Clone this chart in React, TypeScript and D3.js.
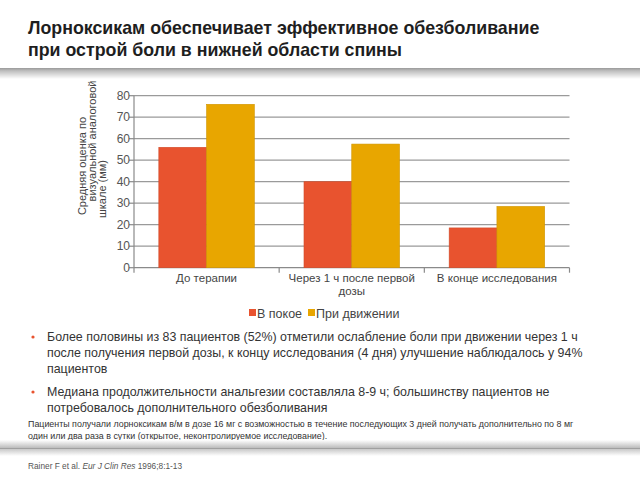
import React from 'react';
import * as d3 from 'd3';

const categories = [["До терапии"], ["Через 1 ч после первой", "дозы"], ["В конце исследования"]];
const seriesNames = ["В покое", "При движении"];
const restValues = [56, 40, 18.5];
const movementValues = [76, 57.5, 28.5];
const yTicks = [0, 10, 20, 30, 40, 50, 60, 70, 80];
const yTitleLines = ["Средняя оценка по", "визуальной аналоговой", "шкале (мм)"];
const titleLines = ["Лорноксикам обеспечивает эффективное обезболивание", "при острой боли в нижней области спины"];
const bullets = [
  ["Более половины из 83 пациентов (52%) отметили ослабление боли при движении через 1 ч", "после получения первой дозы, к концу исследования (4 дня) улучшение наблюдалось у 94%", "пациентов"],
  ["Медиана продолжительности анальгезии составляла 8-9 ч; большинству пациентов не", "потребовалось дополнительного обезболивания"],
];
const footnote = [
  "Пациенты получали лорноксикам в/м в дозе 16 мг с возможностью в течение последующих 3 дней получать дополнительно по 8 мг",
  "один или два раза в сутки (открытое, неконтролируемое исследование).",
];

const colors = ["#e8532f", "#e8a600"];
const font = "'Liberation Sans', Arial, sans-serif";

export default function App() {
  const idx = categories.map((_, i) => String(i));
  const x0 = d3.scaleBand().domain(idx).range([134, 569.5]).padding(0);
  const x1 = d3.scaleBand().domain(seriesNames).range([0, x0.bandwidth()]).paddingOuter(0.52).paddingInner(0);
  const y = d3.scaleLinear().domain([0, 80]).range([267.7, 95.7]);
  const series = [restValues, movementValues];
  const [x0min, x0max] = x0.range();

  return (
    <svg width={640} height={480} style={{ position: 'absolute', left: 0, top: 0, fontFamily: font }}>
      <defs>
        <linearGradient id="topSep" x1="0" y1="0" x2="0" y2="1">
          <stop offset="0" stopColor="#9a9a9a" />
          <stop offset="0.25" stopColor="#bdbdbd" />
          <stop offset="1" stopColor="#ffffff" />
        </linearGradient>
        <linearGradient id="botSepA" x1="0" y1="0" x2="0" y2="1">
          <stop offset="0" stopColor="#ffffff" />
          <stop offset="1" stopColor="#bcbcbc" />
        </linearGradient>
        <linearGradient id="botSepB" x1="0" y1="0" x2="0" y2="1">
          <stop offset="0" stopColor="#c8c8c8" />
          <stop offset="1" stopColor="#ffffff" />
        </linearGradient>
      </defs>
      <rect width={640} height={480} fill="#ffffff" />

      {/* Title */}
      {titleLines.map((t, i) => (
        <text key={i} x={28} y={34 + i * 22} fontSize={17.8} fontWeight="bold" fill="#1e1e1e">{t}</text>
      ))}
      <rect x={0} y={68} width={640} height={11} fill="url(#topSep)" />

      {/* Gridlines */}
      {yTicks.map(t => (
        <line key={t} x1={x0min} x2={x0max} y1={y(t)} y2={y(t)} stroke={t === 0 ? '#8a8a8a' : '#9a9a9a'} strokeWidth={1.2} />
      ))}
      {/* Y axis */}
      <line x1={x0min} x2={x0min} y1={y(80)} y2={y(0)} stroke="#8a8a8a" strokeWidth={1.2} />
      {yTicks.map(t => (
        <g key={'yt' + t}>
          <line x1={x0min - 5} x2={x0min} y1={y(t)} y2={y(t)} stroke="#8a8a8a" strokeWidth={1.2} />
          <text x={x0min - 4} y={y(t)} dy="0.35em" textAnchor="end" fontSize={12} fill="#555">{t}</text>
        </g>
      ))}
      {/* X ticks */}
      {idx.concat(['end']).map((k, i) => {
        const xx = k === 'end' ? x0max : (x0(k) as number);
        return <line key={'xt' + i} x1={xx} x2={xx} y1={y(0)} y2={y(0) + 5} stroke="#8a8a8a" strokeWidth={1.2} />;
      })}

      {/* Bars */}
      {idx.map((k, i) => (
        <g key={'g' + k} transform={`translate(${x0(k)},0)`}>
          {seriesNames.map((s, j) => (
            <rect key={s} x={x1(s)} y={y(series[j][i])} width={x1.bandwidth()} height={y(0) - y(series[j][i])}
              fill={colors[j]} stroke={d3.color(colors[j])!.darker(0.3).toString()} strokeWidth={0.6} />
          ))}
        </g>
      ))}

      {/* Category labels */}
      {categories.map((lines, i) => (
        <text key={'c' + i} x={(x0(String(i)) as number) + x0.bandwidth() / 2} y={282} textAnchor="middle" fontSize={11.5} fill="#444">
          {lines.map((l, j) => <tspan key={j} x={(x0(String(i)) as number) + x0.bandwidth() / 2} dy={j === 0 ? 0 : 13}>{l}</tspan>)}
        </text>
      ))}

      {/* Y title */}
      {yTitleLines.map((l, i) => {
        const cx = [82, 92, 102][i];
        const cy = [166, 141, 189][i];
        return (
          <text key={'yl' + i} transform={`translate(${cx + 4},${cy}) rotate(-90)`} textAnchor="middle" fontSize={11} fill="#444">{l}</text>
        );
      })}

      {/* Legend */}
      <rect x={249} y={309} width={7} height={7} fill={colors[0]} />
      <text x={257} y={317.5} fontSize={12.5} fill="#444">{seriesNames[0]}</text>
      <rect x={308} y={309} width={7} height={7} fill={colors[1]} />
      <text x={316} y={317.5} fontSize={12.5} fill="#444">{seriesNames[1]}</text>

      {/* Bullets */}
      {bullets.map((b, i) => {
        const y0 = i === 0 ? 341 : 396;
        return (
          <g key={'b' + i}>
            <circle cx={33} cy={y0 - 4} r={1.6} fill={colors[0]} />
            {b.map((l, j) => (
              <text key={j} x={47} y={y0 + j * 16} fontSize={12.4} fill="#333">{l}</text>
            ))}
          </g>
        );
      })}

      {/* Footnote */}
      {footnote.map((l, i) => (
        <text key={'f' + i} x={28} y={427 + i * 12} fontSize={8.9} fill="#333">{l}</text>
      ))}

      <rect x={0} y={440} width={640} height={8} fill="url(#botSepA)" />
      <rect x={0} y={448} width={640} height={1.2} fill="#a0a0a0" />
      <rect x={0} y={449} width={640} height={7} fill="url(#botSepB)" />

      {/* Citation */}
      <text x={28} y={469} fontSize={8.3} fill="#555">
        Rainer F et al. <tspan fontStyle="italic">Eur J Clin Res</tspan> 1996;8:1-13
      </text>
    </svg>
  );
}
